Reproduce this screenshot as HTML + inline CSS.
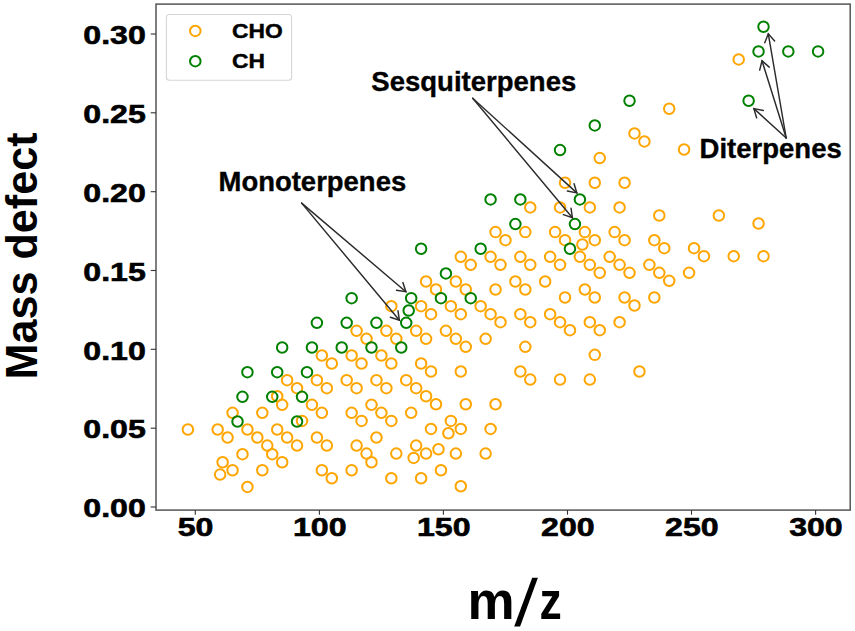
<!DOCTYPE html>
<html><head><meta charset="utf-8"><style>
html,body{margin:0;padding:0;background:#fff;width:855px;height:631px;overflow:hidden}
svg{display:block}
text{font-family:"Liberation Sans",sans-serif;font-weight:bold;fill:#000}
.tk{font-size:26px;stroke:#000;stroke-width:0.6px}
.lg{font-size:19.5px;stroke:#000;stroke-width:0.4px}
.an{font-size:27.2px;stroke:#000;stroke-width:0.35px}
.yl{font-size:44px}
.xl{font-size:53px}
.ar{fill:none;stroke:#2b2b2b;stroke-width:1.45;stroke-linecap:round;stroke-linejoin:miter}
</style></head><body>
<svg width="855" height="631" viewBox="0 0 855 631">
<rect x="0" y="0" width="855" height="631" fill="#fff"/>
<circle cx="187.89" cy="429.52" r="5.25" fill="none" stroke="#FFA500" stroke-width="2.0"/>
<circle cx="217.66" cy="429.52" r="5.25" fill="none" stroke="#FFA500" stroke-width="2.0"/>
<circle cx="227.58" cy="437.54" r="5.25" fill="none" stroke="#FFA500" stroke-width="2.0"/>
<circle cx="232.55" cy="412.86" r="5.25" fill="none" stroke="#FFA500" stroke-width="2.0"/>
<circle cx="247.43" cy="429.52" r="5.25" fill="none" stroke="#FFA500" stroke-width="2.0"/>
<circle cx="257.36" cy="437.54" r="5.25" fill="none" stroke="#FFA500" stroke-width="2.0"/>
<circle cx="262.32" cy="412.86" r="5.25" fill="none" stroke="#FFA500" stroke-width="2.0"/>
<circle cx="267.28" cy="445.56" r="5.25" fill="none" stroke="#FFA500" stroke-width="2.0"/>
<circle cx="272.24" cy="454.2" r="5.25" fill="none" stroke="#FFA500" stroke-width="2.0"/>
<circle cx="277.21" cy="429.52" r="5.25" fill="none" stroke="#FFA500" stroke-width="2.0"/>
<circle cx="277.2" cy="396.2" r="5.25" fill="none" stroke="#FFA500" stroke-width="2.0"/>
<circle cx="282.17" cy="404.85" r="5.25" fill="none" stroke="#FFA500" stroke-width="2.0"/>
<circle cx="287.13" cy="437.54" r="5.25" fill="none" stroke="#FFA500" stroke-width="2.0"/>
<circle cx="282.17" cy="462.21" r="5.25" fill="none" stroke="#FFA500" stroke-width="2.0"/>
<circle cx="297.05" cy="445.56" r="5.25" fill="none" stroke="#FFA500" stroke-width="2.0"/>
<circle cx="297.05" cy="388.19" r="5.25" fill="none" stroke="#FFA500" stroke-width="2.0"/>
<circle cx="302.02" cy="420.88" r="5.25" fill="none" stroke="#FFA500" stroke-width="2.0"/>
<circle cx="311.94" cy="404.85" r="5.25" fill="none" stroke="#FFA500" stroke-width="2.0"/>
<circle cx="316.9" cy="437.54" r="5.25" fill="none" stroke="#FFA500" stroke-width="2.0"/>
<circle cx="321.87" cy="412.86" r="5.25" fill="none" stroke="#FFA500" stroke-width="2.0"/>
<circle cx="326.83" cy="445.56" r="5.25" fill="none" stroke="#FFA500" stroke-width="2.0"/>
<circle cx="321.87" cy="470.23" r="5.25" fill="none" stroke="#FFA500" stroke-width="2.0"/>
<circle cx="331.79" cy="478.25" r="5.25" fill="none" stroke="#FFA500" stroke-width="2.0"/>
<circle cx="326.83" cy="388.19" r="5.25" fill="none" stroke="#FFA500" stroke-width="2.0"/>
<circle cx="242.47" cy="454.2" r="5.25" fill="none" stroke="#FFA500" stroke-width="2.0"/>
<circle cx="222.62" cy="462.21" r="5.25" fill="none" stroke="#FFA500" stroke-width="2.0"/>
<circle cx="232.55" cy="470.23" r="5.25" fill="none" stroke="#FFA500" stroke-width="2.0"/>
<circle cx="220.14" cy="474.55" r="5.25" fill="none" stroke="#FFA500" stroke-width="2.0"/>
<circle cx="262.32" cy="470.23" r="5.25" fill="none" stroke="#FFA500" stroke-width="2.0"/>
<circle cx="247.43" cy="486.89" r="5.25" fill="none" stroke="#FFA500" stroke-width="2.0"/>
<circle cx="356.6" cy="388.19" r="5.25" fill="none" stroke="#FFA500" stroke-width="2.0"/>
<circle cx="386.37" cy="388.19" r="5.25" fill="none" stroke="#FFA500" stroke-width="2.0"/>
<circle cx="416.15" cy="388.19" r="5.25" fill="none" stroke="#FFA500" stroke-width="2.0"/>
<circle cx="426.07" cy="396.21" r="5.25" fill="none" stroke="#FFA500" stroke-width="2.0"/>
<circle cx="435.99" cy="404.22" r="5.25" fill="none" stroke="#FFA500" stroke-width="2.0"/>
<circle cx="465.77" cy="404.22" r="5.25" fill="none" stroke="#FFA500" stroke-width="2.0"/>
<circle cx="495.54" cy="404.22" r="5.25" fill="none" stroke="#FFA500" stroke-width="2.0"/>
<circle cx="371.49" cy="404.85" r="5.25" fill="none" stroke="#FFA500" stroke-width="2.0"/>
<circle cx="351.64" cy="412.86" r="5.25" fill="none" stroke="#FFA500" stroke-width="2.0"/>
<circle cx="381.41" cy="412.86" r="5.25" fill="none" stroke="#FFA500" stroke-width="2.0"/>
<circle cx="411.18" cy="412.86" r="5.25" fill="none" stroke="#FFA500" stroke-width="2.0"/>
<circle cx="361.56" cy="420.88" r="5.25" fill="none" stroke="#FFA500" stroke-width="2.0"/>
<circle cx="391.34" cy="420.88" r="5.25" fill="none" stroke="#FFA500" stroke-width="2.0"/>
<circle cx="450.88" cy="420.88" r="5.25" fill="none" stroke="#FFA500" stroke-width="2.0"/>
<circle cx="431.03" cy="428.9" r="5.25" fill="none" stroke="#FFA500" stroke-width="2.0"/>
<circle cx="460.81" cy="428.9" r="5.25" fill="none" stroke="#FFA500" stroke-width="2.0"/>
<circle cx="490.58" cy="428.9" r="5.25" fill="none" stroke="#FFA500" stroke-width="2.0"/>
<circle cx="448.4" cy="433.22" r="5.25" fill="none" stroke="#FFA500" stroke-width="2.0"/>
<circle cx="376.45" cy="437.54" r="5.25" fill="none" stroke="#FFA500" stroke-width="2.0"/>
<circle cx="356.6" cy="445.56" r="5.25" fill="none" stroke="#FFA500" stroke-width="2.0"/>
<circle cx="416.15" cy="445.56" r="5.25" fill="none" stroke="#FFA500" stroke-width="2.0"/>
<circle cx="438.48" cy="449.25" r="5.25" fill="none" stroke="#FFA500" stroke-width="2.0"/>
<circle cx="366.52" cy="453.57" r="5.25" fill="none" stroke="#FFA500" stroke-width="2.0"/>
<circle cx="396.3" cy="453.57" r="5.25" fill="none" stroke="#FFA500" stroke-width="2.0"/>
<circle cx="426.07" cy="453.57" r="5.25" fill="none" stroke="#FFA500" stroke-width="2.0"/>
<circle cx="455.84" cy="453.57" r="5.25" fill="none" stroke="#FFA500" stroke-width="2.0"/>
<circle cx="485.62" cy="453.57" r="5.25" fill="none" stroke="#FFA500" stroke-width="2.0"/>
<circle cx="413.67" cy="457.89" r="5.25" fill="none" stroke="#FFA500" stroke-width="2.0"/>
<circle cx="371.49" cy="462.21" r="5.25" fill="none" stroke="#FFA500" stroke-width="2.0"/>
<circle cx="351.64" cy="470.23" r="5.25" fill="none" stroke="#FFA500" stroke-width="2.0"/>
<circle cx="440.96" cy="470.23" r="5.25" fill="none" stroke="#FFA500" stroke-width="2.0"/>
<circle cx="391.34" cy="478.25" r="5.25" fill="none" stroke="#FFA500" stroke-width="2.0"/>
<circle cx="421.11" cy="478.25" r="5.25" fill="none" stroke="#FFA500" stroke-width="2.0"/>
<circle cx="460.81" cy="486.27" r="5.25" fill="none" stroke="#FFA500" stroke-width="2.0"/>
<circle cx="321.87" cy="355.5" r="5.25" fill="none" stroke="#FFA500" stroke-width="2.0"/>
<circle cx="331.79" cy="363.51" r="5.25" fill="none" stroke="#FFA500" stroke-width="2.0"/>
<circle cx="287.13" cy="380.17" r="5.25" fill="none" stroke="#FFA500" stroke-width="2.0"/>
<circle cx="316.9" cy="380.17" r="5.25" fill="none" stroke="#FFA500" stroke-width="2.0"/>
<circle cx="470.73" cy="264.81" r="5.25" fill="none" stroke="#FFA500" stroke-width="2.0"/>
<circle cx="500.5" cy="264.81" r="5.25" fill="none" stroke="#FFA500" stroke-width="2.0"/>
<circle cx="426.07" cy="281.47" r="5.25" fill="none" stroke="#FFA500" stroke-width="2.0"/>
<circle cx="455.84" cy="281.47" r="5.25" fill="none" stroke="#FFA500" stroke-width="2.0"/>
<circle cx="435.99" cy="289.49" r="5.25" fill="none" stroke="#FFA500" stroke-width="2.0"/>
<circle cx="465.77" cy="289.49" r="5.25" fill="none" stroke="#FFA500" stroke-width="2.0"/>
<circle cx="495.54" cy="289.49" r="5.25" fill="none" stroke="#FFA500" stroke-width="2.0"/>
<circle cx="391.34" cy="306.15" r="5.25" fill="none" stroke="#FFA500" stroke-width="2.0"/>
<circle cx="421.11" cy="306.15" r="5.25" fill="none" stroke="#FFA500" stroke-width="2.0"/>
<circle cx="450.88" cy="306.15" r="5.25" fill="none" stroke="#FFA500" stroke-width="2.0"/>
<circle cx="480.65" cy="306.15" r="5.25" fill="none" stroke="#FFA500" stroke-width="2.0"/>
<circle cx="431.03" cy="314.16" r="5.25" fill="none" stroke="#FFA500" stroke-width="2.0"/>
<circle cx="460.81" cy="314.16" r="5.25" fill="none" stroke="#FFA500" stroke-width="2.0"/>
<circle cx="490.58" cy="314.16" r="5.25" fill="none" stroke="#FFA500" stroke-width="2.0"/>
<circle cx="500.5" cy="322.18" r="5.25" fill="none" stroke="#FFA500" stroke-width="2.0"/>
<circle cx="356.6" cy="330.82" r="5.25" fill="none" stroke="#FFA500" stroke-width="2.0"/>
<circle cx="386.37" cy="330.82" r="5.25" fill="none" stroke="#FFA500" stroke-width="2.0"/>
<circle cx="416.15" cy="330.82" r="5.25" fill="none" stroke="#FFA500" stroke-width="2.0"/>
<circle cx="445.92" cy="330.82" r="5.25" fill="none" stroke="#FFA500" stroke-width="2.0"/>
<circle cx="366.52" cy="338.84" r="5.25" fill="none" stroke="#FFA500" stroke-width="2.0"/>
<circle cx="396.3" cy="338.84" r="5.25" fill="none" stroke="#FFA500" stroke-width="2.0"/>
<circle cx="426.07" cy="338.84" r="5.25" fill="none" stroke="#FFA500" stroke-width="2.0"/>
<circle cx="455.84" cy="338.84" r="5.25" fill="none" stroke="#FFA500" stroke-width="2.0"/>
<circle cx="485.62" cy="338.84" r="5.25" fill="none" stroke="#FFA500" stroke-width="2.0"/>
<circle cx="465.77" cy="346.86" r="5.25" fill="none" stroke="#FFA500" stroke-width="2.0"/>
<circle cx="351.64" cy="355.5" r="5.25" fill="none" stroke="#FFA500" stroke-width="2.0"/>
<circle cx="381.41" cy="355.5" r="5.25" fill="none" stroke="#FFA500" stroke-width="2.0"/>
<circle cx="421.11" cy="363.51" r="5.25" fill="none" stroke="#FFA500" stroke-width="2.0"/>
<circle cx="361.56" cy="363.51" r="5.25" fill="none" stroke="#FFA500" stroke-width="2.0"/>
<circle cx="391.34" cy="363.51" r="5.25" fill="none" stroke="#FFA500" stroke-width="2.0"/>
<circle cx="431.03" cy="371.53" r="5.25" fill="none" stroke="#FFA500" stroke-width="2.0"/>
<circle cx="460.81" cy="371.53" r="5.25" fill="none" stroke="#FFA500" stroke-width="2.0"/>
<circle cx="346.68" cy="380.17" r="5.25" fill="none" stroke="#FFA500" stroke-width="2.0"/>
<circle cx="376.45" cy="380.17" r="5.25" fill="none" stroke="#FFA500" stroke-width="2.0"/>
<circle cx="406.22" cy="380.17" r="5.25" fill="none" stroke="#FFA500" stroke-width="2.0"/>
<circle cx="530.28" cy="264.81" r="5.25" fill="none" stroke="#FFA500" stroke-width="2.0"/>
<circle cx="560.05" cy="264.81" r="5.25" fill="none" stroke="#FFA500" stroke-width="2.0"/>
<circle cx="589.82" cy="264.81" r="5.25" fill="none" stroke="#FFA500" stroke-width="2.0"/>
<circle cx="619.59" cy="264.81" r="5.25" fill="none" stroke="#FFA500" stroke-width="2.0"/>
<circle cx="649.37" cy="264.81" r="5.25" fill="none" stroke="#FFA500" stroke-width="2.0"/>
<circle cx="599.75" cy="272.83" r="5.25" fill="none" stroke="#FFA500" stroke-width="2.0"/>
<circle cx="629.52" cy="272.83" r="5.25" fill="none" stroke="#FFA500" stroke-width="2.0"/>
<circle cx="659.29" cy="272.83" r="5.25" fill="none" stroke="#FFA500" stroke-width="2.0"/>
<circle cx="669.22" cy="280.85" r="5.25" fill="none" stroke="#FFA500" stroke-width="2.0"/>
<circle cx="515.39" cy="281.47" r="5.25" fill="none" stroke="#FFA500" stroke-width="2.0"/>
<circle cx="545.16" cy="281.47" r="5.25" fill="none" stroke="#FFA500" stroke-width="2.0"/>
<circle cx="525.31" cy="289.49" r="5.25" fill="none" stroke="#FFA500" stroke-width="2.0"/>
<circle cx="584.86" cy="289.49" r="5.25" fill="none" stroke="#FFA500" stroke-width="2.0"/>
<circle cx="565.01" cy="297.51" r="5.25" fill="none" stroke="#FFA500" stroke-width="2.0"/>
<circle cx="594.78" cy="297.51" r="5.25" fill="none" stroke="#FFA500" stroke-width="2.0"/>
<circle cx="624.56" cy="297.51" r="5.25" fill="none" stroke="#FFA500" stroke-width="2.0"/>
<circle cx="654.33" cy="297.51" r="5.25" fill="none" stroke="#FFA500" stroke-width="2.0"/>
<circle cx="634.48" cy="305.52" r="5.25" fill="none" stroke="#FFA500" stroke-width="2.0"/>
<circle cx="520.35" cy="314.16" r="5.25" fill="none" stroke="#FFA500" stroke-width="2.0"/>
<circle cx="550.12" cy="314.16" r="5.25" fill="none" stroke="#FFA500" stroke-width="2.0"/>
<circle cx="530.28" cy="322.18" r="5.25" fill="none" stroke="#FFA500" stroke-width="2.0"/>
<circle cx="560.05" cy="322.18" r="5.25" fill="none" stroke="#FFA500" stroke-width="2.0"/>
<circle cx="589.82" cy="322.18" r="5.25" fill="none" stroke="#FFA500" stroke-width="2.0"/>
<circle cx="619.59" cy="322.18" r="5.25" fill="none" stroke="#FFA500" stroke-width="2.0"/>
<circle cx="569.97" cy="330.2" r="5.25" fill="none" stroke="#FFA500" stroke-width="2.0"/>
<circle cx="599.75" cy="330.2" r="5.25" fill="none" stroke="#FFA500" stroke-width="2.0"/>
<circle cx="525.31" cy="346.86" r="5.25" fill="none" stroke="#FFA500" stroke-width="2.0"/>
<circle cx="594.78" cy="354.87" r="5.25" fill="none" stroke="#FFA500" stroke-width="2.0"/>
<circle cx="520.35" cy="371.53" r="5.25" fill="none" stroke="#FFA500" stroke-width="2.0"/>
<circle cx="530.28" cy="379.55" r="5.25" fill="none" stroke="#FFA500" stroke-width="2.0"/>
<circle cx="560.05" cy="379.55" r="5.25" fill="none" stroke="#FFA500" stroke-width="2.0"/>
<circle cx="589.82" cy="379.55" r="5.25" fill="none" stroke="#FFA500" stroke-width="2.0"/>
<circle cx="639.44" cy="371.53" r="5.25" fill="none" stroke="#FFA500" stroke-width="2.0"/>
<circle cx="689.06" cy="272.83" r="5.25" fill="none" stroke="#FFA500" stroke-width="2.0"/>
<circle cx="495.54" cy="232.12" r="5.25" fill="none" stroke="#FFA500" stroke-width="2.0"/>
<circle cx="460.81" cy="256.8" r="5.25" fill="none" stroke="#FFA500" stroke-width="2.0"/>
<circle cx="490.58" cy="256.8" r="5.25" fill="none" stroke="#FFA500" stroke-width="2.0"/>
<circle cx="634.48" cy="133.42" r="5.25" fill="none" stroke="#FFA500" stroke-width="2.0"/>
<circle cx="644.41" cy="141.44" r="5.25" fill="none" stroke="#FFA500" stroke-width="2.0"/>
<circle cx="599.75" cy="158.1" r="5.25" fill="none" stroke="#FFA500" stroke-width="2.0"/>
<circle cx="565.01" cy="182.77" r="5.25" fill="none" stroke="#FFA500" stroke-width="2.0"/>
<circle cx="594.78" cy="182.77" r="5.25" fill="none" stroke="#FFA500" stroke-width="2.0"/>
<circle cx="624.56" cy="182.77" r="5.25" fill="none" stroke="#FFA500" stroke-width="2.0"/>
<circle cx="530.28" cy="207.45" r="5.25" fill="none" stroke="#FFA500" stroke-width="2.0"/>
<circle cx="560.05" cy="207.45" r="5.25" fill="none" stroke="#FFA500" stroke-width="2.0"/>
<circle cx="589.82" cy="207.45" r="5.25" fill="none" stroke="#FFA500" stroke-width="2.0"/>
<circle cx="619.59" cy="207.45" r="5.25" fill="none" stroke="#FFA500" stroke-width="2.0"/>
<circle cx="659.29" cy="215.46" r="5.25" fill="none" stroke="#FFA500" stroke-width="2.0"/>
<circle cx="525.31" cy="232.12" r="5.25" fill="none" stroke="#FFA500" stroke-width="2.0"/>
<circle cx="555.09" cy="232.12" r="5.25" fill="none" stroke="#FFA500" stroke-width="2.0"/>
<circle cx="584.86" cy="232.12" r="5.25" fill="none" stroke="#FFA500" stroke-width="2.0"/>
<circle cx="614.63" cy="232.12" r="5.25" fill="none" stroke="#FFA500" stroke-width="2.0"/>
<circle cx="505.47" cy="240.14" r="5.25" fill="none" stroke="#FFA500" stroke-width="2.0"/>
<circle cx="565.01" cy="240.14" r="5.25" fill="none" stroke="#FFA500" stroke-width="2.0"/>
<circle cx="594.78" cy="240.14" r="5.25" fill="none" stroke="#FFA500" stroke-width="2.0"/>
<circle cx="624.56" cy="240.14" r="5.25" fill="none" stroke="#FFA500" stroke-width="2.0"/>
<circle cx="654.33" cy="240.14" r="5.25" fill="none" stroke="#FFA500" stroke-width="2.0"/>
<circle cx="582.38" cy="244.46" r="5.25" fill="none" stroke="#FFA500" stroke-width="2.0"/>
<circle cx="664.25" cy="248.16" r="5.25" fill="none" stroke="#FFA500" stroke-width="2.0"/>
<circle cx="520.35" cy="256.8" r="5.25" fill="none" stroke="#FFA500" stroke-width="2.0"/>
<circle cx="550.12" cy="256.8" r="5.25" fill="none" stroke="#FFA500" stroke-width="2.0"/>
<circle cx="579.9" cy="256.8" r="5.25" fill="none" stroke="#FFA500" stroke-width="2.0"/>
<circle cx="609.67" cy="256.8" r="5.25" fill="none" stroke="#FFA500" stroke-width="2.0"/>
<circle cx="684.1" cy="149.46" r="5.25" fill="none" stroke="#FFA500" stroke-width="2.0"/>
<circle cx="718.84" cy="215.46" r="5.25" fill="none" stroke="#FFA500" stroke-width="2.0"/>
<circle cx="758.54" cy="223.48" r="5.25" fill="none" stroke="#FFA500" stroke-width="2.0"/>
<circle cx="694.03" cy="248.16" r="5.25" fill="none" stroke="#FFA500" stroke-width="2.0"/>
<circle cx="703.95" cy="256.17" r="5.25" fill="none" stroke="#FFA500" stroke-width="2.0"/>
<circle cx="733.72" cy="256.17" r="5.25" fill="none" stroke="#FFA500" stroke-width="2.0"/>
<circle cx="763.5" cy="256.17" r="5.25" fill="none" stroke="#FFA500" stroke-width="2.0"/>
<circle cx="669.22" cy="108.75" r="5.25" fill="none" stroke="#FFA500" stroke-width="2.0"/>
<circle cx="738.69" cy="59.4" r="5.25" fill="none" stroke="#FFA500" stroke-width="2.0"/>
<circle cx="242.47" cy="396.83" r="5.25" fill="none" stroke="#008000" stroke-width="2.0"/>
<circle cx="272.24" cy="396.83" r="5.25" fill="none" stroke="#008000" stroke-width="2.0"/>
<circle cx="302.02" cy="396.83" r="5.25" fill="none" stroke="#008000" stroke-width="2.0"/>
<circle cx="237.51" cy="421.5" r="5.25" fill="none" stroke="#008000" stroke-width="2.0"/>
<circle cx="297.05" cy="421.5" r="5.25" fill="none" stroke="#008000" stroke-width="2.0"/>
<circle cx="316.9" cy="322.8" r="5.25" fill="none" stroke="#008000" stroke-width="2.0"/>
<circle cx="282.17" cy="347.48" r="5.25" fill="none" stroke="#008000" stroke-width="2.0"/>
<circle cx="311.94" cy="347.48" r="5.25" fill="none" stroke="#008000" stroke-width="2.0"/>
<circle cx="247.43" cy="372.15" r="5.25" fill="none" stroke="#008000" stroke-width="2.0"/>
<circle cx="277.21" cy="372.15" r="5.25" fill="none" stroke="#008000" stroke-width="2.0"/>
<circle cx="306.98" cy="372.15" r="5.25" fill="none" stroke="#008000" stroke-width="2.0"/>
<circle cx="445.92" cy="273.45" r="5.25" fill="none" stroke="#008000" stroke-width="2.0"/>
<circle cx="351.64" cy="298.13" r="5.25" fill="none" stroke="#008000" stroke-width="2.0"/>
<circle cx="411.18" cy="298.13" r="5.25" fill="none" stroke="#008000" stroke-width="2.0"/>
<circle cx="440.96" cy="298.13" r="5.25" fill="none" stroke="#008000" stroke-width="2.0"/>
<circle cx="470.73" cy="298.13" r="5.25" fill="none" stroke="#008000" stroke-width="2.0"/>
<circle cx="408.7" cy="310.47" r="5.25" fill="none" stroke="#008000" stroke-width="2.0"/>
<circle cx="346.68" cy="322.8" r="5.25" fill="none" stroke="#008000" stroke-width="2.0"/>
<circle cx="376.45" cy="322.8" r="5.25" fill="none" stroke="#008000" stroke-width="2.0"/>
<circle cx="406.22" cy="322.8" r="5.25" fill="none" stroke="#008000" stroke-width="2.0"/>
<circle cx="341.71" cy="347.48" r="5.25" fill="none" stroke="#008000" stroke-width="2.0"/>
<circle cx="371.49" cy="347.48" r="5.25" fill="none" stroke="#008000" stroke-width="2.0"/>
<circle cx="401.26" cy="347.48" r="5.25" fill="none" stroke="#008000" stroke-width="2.0"/>
<circle cx="490.58" cy="199.43" r="5.25" fill="none" stroke="#008000" stroke-width="2.0"/>
<circle cx="421.11" cy="248.78" r="5.25" fill="none" stroke="#008000" stroke-width="2.0"/>
<circle cx="480.65" cy="248.78" r="5.25" fill="none" stroke="#008000" stroke-width="2.0"/>
<circle cx="560.05" cy="150.08" r="5.25" fill="none" stroke="#008000" stroke-width="2.0"/>
<circle cx="520.35" cy="199.43" r="5.25" fill="none" stroke="#008000" stroke-width="2.0"/>
<circle cx="579.9" cy="199.43" r="5.25" fill="none" stroke="#008000" stroke-width="2.0"/>
<circle cx="515.39" cy="224.11" r="5.25" fill="none" stroke="#008000" stroke-width="2.0"/>
<circle cx="574.94" cy="224.11" r="5.25" fill="none" stroke="#008000" stroke-width="2.0"/>
<circle cx="569.97" cy="248.78" r="5.25" fill="none" stroke="#008000" stroke-width="2.0"/>
<circle cx="629.52" cy="100.73" r="5.25" fill="none" stroke="#008000" stroke-width="2.0"/>
<circle cx="594.78" cy="125.41" r="5.25" fill="none" stroke="#008000" stroke-width="2.0"/>
<circle cx="763.5" cy="26.71" r="5.25" fill="none" stroke="#008000" stroke-width="2.0"/>
<circle cx="758.54" cy="51.38" r="5.25" fill="none" stroke="#008000" stroke-width="2.0"/>
<circle cx="788.31" cy="51.38" r="5.25" fill="none" stroke="#008000" stroke-width="2.0"/>
<circle cx="818.08" cy="51.38" r="5.25" fill="none" stroke="#008000" stroke-width="2.0"/>
<circle cx="748.61" cy="100.73" r="5.25" fill="none" stroke="#008000" stroke-width="2.0"/>
<rect x="156.0" y="4.1" width="694.2" height="506.0" fill="none" stroke="#555" stroke-width="1.5"/>
<line x1="150.7" y1="507.0" x2="156.0" y2="507.0" stroke="#333" stroke-width="1.1"/>
<text transform="translate(145.8,517.2) scale(1.235,1)" text-anchor="end" class="tk">0.00</text>
<line x1="150.7" y1="428.2" x2="156.0" y2="428.2" stroke="#333" stroke-width="1.1"/>
<text transform="translate(145.8,438.4) scale(1.235,1)" text-anchor="end" class="tk">0.05</text>
<line x1="150.7" y1="349.3" x2="156.0" y2="349.3" stroke="#333" stroke-width="1.1"/>
<text transform="translate(145.8,359.5) scale(1.235,1)" text-anchor="end" class="tk">0.10</text>
<line x1="150.7" y1="270.5" x2="156.0" y2="270.5" stroke="#333" stroke-width="1.1"/>
<text transform="translate(145.8,280.7) scale(1.235,1)" text-anchor="end" class="tk">0.15</text>
<line x1="150.7" y1="191.7" x2="156.0" y2="191.7" stroke="#333" stroke-width="1.1"/>
<text transform="translate(145.8,201.9) scale(1.235,1)" text-anchor="end" class="tk">0.20</text>
<line x1="150.7" y1="112.8" x2="156.0" y2="112.8" stroke="#333" stroke-width="1.1"/>
<text transform="translate(145.8,123.0) scale(1.235,1)" text-anchor="end" class="tk">0.25</text>
<line x1="150.7" y1="34.0" x2="156.0" y2="34.0" stroke="#333" stroke-width="1.1"/>
<text transform="translate(145.8,44.2) scale(1.235,1)" text-anchor="end" class="tk">0.30</text>
<line x1="195.3" y1="510.1" x2="195.3" y2="514.7" stroke="#333" stroke-width="1.1"/>
<text transform="translate(195.6,536.2) scale(1.235,1)" text-anchor="middle" class="tk">50</text>
<line x1="319.4" y1="510.1" x2="319.4" y2="514.7" stroke="#333" stroke-width="1.1"/>
<text transform="translate(319.7,536.2) scale(1.235,1)" text-anchor="middle" class="tk">100</text>
<line x1="443.4" y1="510.1" x2="443.4" y2="514.7" stroke="#333" stroke-width="1.1"/>
<text transform="translate(443.7,536.2) scale(1.235,1)" text-anchor="middle" class="tk">150</text>
<line x1="567.5" y1="510.1" x2="567.5" y2="514.7" stroke="#333" stroke-width="1.1"/>
<text transform="translate(567.8,536.2) scale(1.235,1)" text-anchor="middle" class="tk">200</text>
<line x1="691.5" y1="510.1" x2="691.5" y2="514.7" stroke="#333" stroke-width="1.1"/>
<text transform="translate(691.8,536.2) scale(1.235,1)" text-anchor="middle" class="tk">250</text>
<line x1="815.6" y1="510.1" x2="815.6" y2="514.7" stroke="#333" stroke-width="1.1"/>
<text transform="translate(815.9,536.2) scale(1.235,1)" text-anchor="middle" class="tk">300</text>
<rect x="166.4" y="14.5" width="125.2" height="65.8" rx="3" ry="3" fill="#fff" stroke="#d6d6d6" stroke-width="1.1"/>
<circle cx="195.3" cy="30.9" r="5.25" fill="none" stroke="#FFA500" stroke-width="2.0"/>
<circle cx="195.3" cy="61.2" r="5.25" fill="none" stroke="#008000" stroke-width="2.0"/>
<text transform="translate(232.0,37.7) scale(1.17,1)" class="lg">CHO</text>
<text transform="translate(232.0,67.6) scale(1.17,1)" class="lg">CH</text>
<text transform="translate(218.5,190.8) scale(1.01,1)" class="an">Monoterpenes</text>
<text transform="translate(371.3,90.9) scale(1.012,1)" class="an">Sesquiterpenes</text>
<text transform="translate(699.5,157.7) scale(1.012,1)" class="an">Diterpenes</text>
<line x1="301.65" y1="203.1" x2="405.9" y2="291.7" class="ar"/><polyline points="396.41,290.20 405.9,291.7 402.89,282.58" class="ar"/>
<line x1="301.65" y1="203.1" x2="399.4" y2="320.3" class="ar"/><polyline points="390.31,317.21 399.4,320.3 397.99,310.80" class="ar"/>
<line x1="472.7" y1="98.2" x2="576.8" y2="192.9" class="ar"/><polyline points="567.37,191.08 576.8,192.9 574.10,183.68" class="ar"/>
<line x1="472.7" y1="98.2" x2="572.4" y2="217.7" class="ar"/><polyline points="563.31,214.61 572.4,217.7 570.99,208.20" class="ar"/>
<line x1="786.2" y1="138.0" x2="768.3" y2="33.8" class="ar"/><polyline points="774.62,41.04 768.3,33.8 764.76,42.73" class="ar"/>
<line x1="786.2" y1="138.0" x2="762.0" y2="60.8" class="ar"/><polyline points="769.22,67.13 762.0,60.8 759.68,70.12" class="ar"/>
<line x1="786.2" y1="138.0" x2="753.9" y2="108.6" class="ar"/><polyline points="763.33,110.42 753.9,108.6 756.60,117.82" class="ar"/>
<text transform="translate(36.9,379.5) rotate(-90) scale(0.981,1)" class="yl">Mass defect</text>
<text x="467.4" y="619" class="xl">m</text>
<polygon points="532.2,577.7 537.9,577.7 520.1,626.6 514.2,626.6" fill="#000"/>
<text transform="translate(539.6,619) scale(0.84,1)" class="xl">z</text>
</svg>
</body></html>
